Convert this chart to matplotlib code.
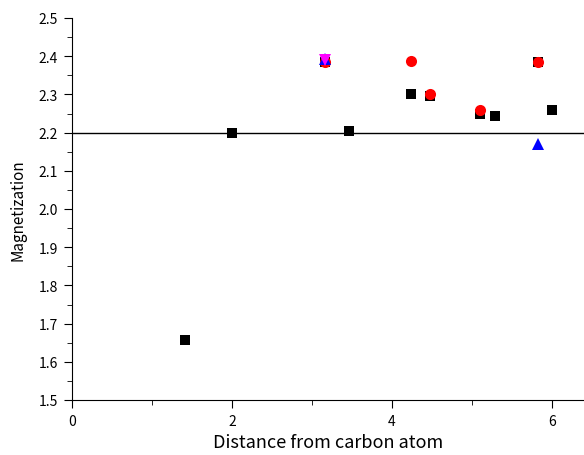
import matplotlib.pyplot as plt
from matplotlib.ticker import MultipleLocator

plt.rcParams['font.family'] = ['Noto Sans CJK JP', 'DejaVu Sans']

# black squares
sq_x = [1.414, 2.0, 3.162, 3.464, 4.243, 4.472, 5.099, 5.292, 5.831, 6.0]
sq_y = [1.657, 2.200, 2.385, 2.203, 2.301, 2.297, 2.250, 2.243, 2.384, 2.258]

# red circles
ci_x = [3.162, 4.243, 4.472, 5.099, 5.831]
ci_y = [2.385, 2.388, 2.301, 2.258, 2.384]

# blue triangles
tr_x = [3.162, 5.831]
tr_y = [2.393, 2.170]

# magenta down triangle
dt_x = [3.162]
dt_y = [2.390]

ref_level = 2.2

fig = plt.figure(figsize=(5.84, 4.56), dpi=100)
ax = fig.add_axes([72/584, 55/456, 1 - 72/584, 382/456])

ax.axhline(ref_level, color="black", lw=1)
ax.plot(sq_x, sq_y, "s", color="black", ms=6.5, mew=0, ls="none")
ax.plot(ci_x, ci_y, "o", color="red", ms=8, mew=0, ls="none")
ax.plot(tr_x, tr_y, "^", color="blue", ms=9, mew=0, ls="none")
ax.plot(dt_x, dt_y, "v", color="magenta", ms=8.5, mew=0, ls="none")

ax.set_xlim(0, 6.4)
ax.set_ylim(1.5, 2.5)
ax.xaxis.set_major_locator(MultipleLocator(2))
ax.xaxis.set_minor_locator(MultipleLocator(1))
ax.yaxis.set_major_locator(MultipleLocator(0.1))
ax.yaxis.set_minor_locator(MultipleLocator(0.05))
ax.yaxis.set_major_formatter(plt.FormatStrFormatter("%.1f"))
ax.tick_params(which="major", direction="out", length=6, labelsize=10, pad=4)
ax.tick_params(which="minor", direction="out", length=3.5)
ax.spines["top"].set_visible(False)
ax.spines["right"].set_visible(False)

ax.set_xlabel("Distance from carbon atom", fontsize=13, labelpad=4)
ax.set_ylabel("Magnetization", fontsize=11, labelpad=9)

plt.savefig("out.png", dpi=100)
